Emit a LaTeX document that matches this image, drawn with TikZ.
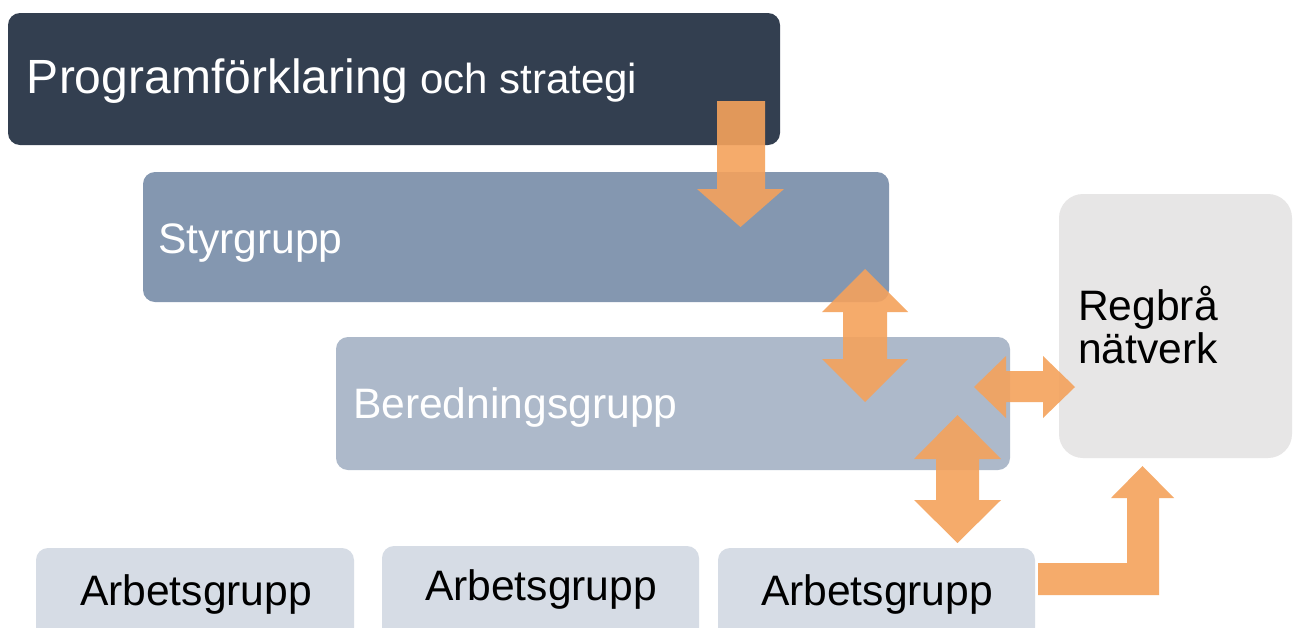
\documentclass[tikz,border=0pt]{standalone}
\usepackage{fontspec}
\setmainfont{Liberation Sans}
\definecolor{darkbox}{HTML}{333F50}
\definecolor{styr}{HTML}{8497B0}
\definecolor{bered}{HTML}{ADB9CA}
\definecolor{arbet}{HTML}{D6DCE5}
\definecolor{regbra}{HTML}{E7E6E6}
\definecolor{arrowc}{HTML}{F4A25C}
\newcommand{\lblfont}{\fontsize{42.6}{48}\selectfont}
\tikzset{
  box/.style={anchor=north west, inner sep=0pt, outer sep=0pt, rounded corners=#1},
  box/.default=12pt,
  lbl/.style={anchor=base west, inner sep=0pt, outer sep=0pt},
  blockarrow/.style={fill=arrowc, fill opacity=0.9, draw=none},
}
\begin{document}
\begin{tikzpicture}[x=1pt,y=-1pt]
\useasboundingbox (0,0) rectangle (1296,627);
\clip (0,0) rectangle (1296,627);
\fill[white] (0,0) rectangle (1296,627);
% boxes
\node[box, fill=darkbox, minimum width=772pt, minimum height=132pt] (prog) at (8,13) {};
\node[box, fill=styr, minimum width=746pt, minimum height=130pt] (styr) at (143,172) {};
\node[box, fill=bered, minimum width=674pt, minimum height=133pt] (bered) at (336,337) {};
\node[box=24pt, fill=regbra, minimum width=233pt, minimum height=264pt] (reg) at (1059,194) {};
\node[box, fill=arbet, minimum width=318pt, minimum height=110pt] (a1) at (36,548) {};
\node[box, fill=arbet, minimum width=317pt, minimum height=110pt] (a2) at (382,546) {};
\node[box, fill=arbet, minimum width=317pt, minimum height=110pt] (a3) at (718,548) {};
% texts
\node[lbl, text=white] (tprog) at (27,93) {\fontsize{48}{52}\selectfont Programförklaring\fontsize{42}{48}\selectfont{} och strategi};
\node[lbl, text=white] (tstyr) at (158,253) {\lblfont Styrgrupp};
\node[lbl, text=white] (tbered) at (353,418) {\lblfont Beredningsgrupp};
\node[lbl, text=black] (treg1) at (1078,320) {\lblfont Regbrå};
\node[lbl, text=black] (treg2) at (1078,363) {\lblfont nätverk};
\node[lbl, text=black] (ta1) at (80,605) {\lblfont Arbetsgrupp};
\node[lbl, text=black] (ta2) at (425,600) {\lblfont Arbetsgrupp};
\node[lbl, text=black] (ta3) at (761,605) {\lblfont Arbetsgrupp};
% arrows
\fill[blockarrow] (717,101) -- (765,101) -- (765,189) -- (784,189) -- (740.5,227) -- (697,189) -- (717,189) -- cycle;
\fill[blockarrow] (865,269) -- (908,312) -- (887,312) -- (887,359) -- (908,359) -- (865,402) -- (822,359) -- (843,359) -- (843,312) -- (822,312) -- cycle;
\fill[blockarrow] (974,387) -- (1006,356) -- (1006,371) -- (1043,371) -- (1043,356) -- (1075,387) -- (1043,418) -- (1043,402) -- (1006,402) -- (1006,418) -- cycle;
\fill[blockarrow] (957.5,415) -- (1001,459) -- (979,459) -- (979,500) -- (1001,500) -- (957.5,543) -- (914,500) -- (936,500) -- (936,459) -- (914,459) -- cycle;
\fill[blockarrow] (1038,563) -- (1127,563) -- (1127,498) -- (1111,498) -- (1142.5,466) -- (1174,498) -- (1159,498) -- (1159,595) -- (1038,595) -- cycle;
\end{tikzpicture}
\end{document}
